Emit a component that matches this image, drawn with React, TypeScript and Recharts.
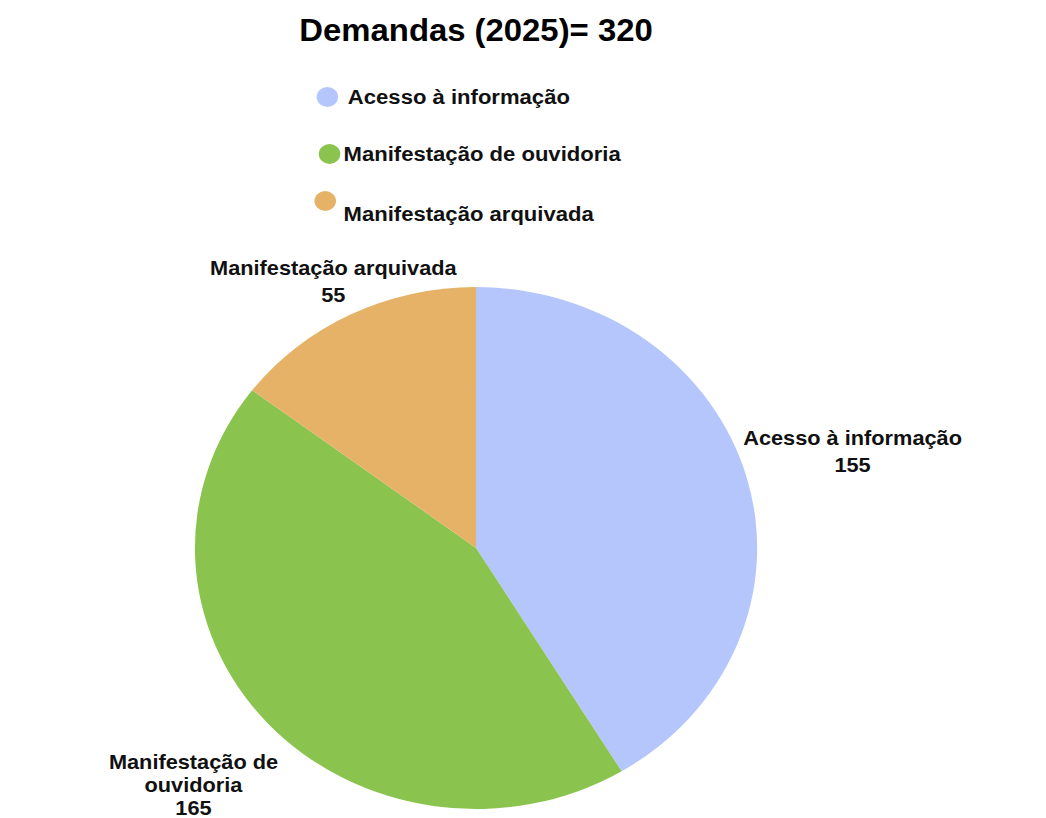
import React from 'react';
import { PieChart, Pie, Cell, Legend } from 'recharts';

const categories = ['Acesso à informação', 'Manifestação de ouvidoria', 'Manifestação arquivada'];
const values = [155, 165, 55];
const labelTexts = ['Acesso à informação', 'Manifestação de\nouvidoria', 'Manifestação arquivada'];
const colors = ['#B4C6FB', '#8BC34F', '#E5B268'];
const title = 'Demandas (2025)= 320';

// the reference picture is stretched horizontally; draw at a narrower width and stretch
const STRETCH = 1.077;
const W = Math.round(1046 / STRETCH);
const H = 818;

// distance of each label from the centre (styling only)
const labelRadius = [363, 353, 298];
const labelLineHeight = [27, 23, 27];

const data = categories.map((name, i) => ({ name, value: values[i] }));

const RADIAN = Math.PI / 180;
const FONT = '"Liberation Sans", Arial, sans-serif';

const renderLabel = (props: any) => {
  const { cx, cy, midAngle, index, value } = props;
  const r = labelRadius[index];
  const x = cx + r * Math.cos(-midAngle * RADIAN);
  const y = cy + r * Math.sin(-midAngle * RADIAN);
  const lines = [...labelTexts[index].split('\n'), String(value)];
  const lh = labelLineHeight[index];
  const top = y - ((lines.length - 1) * lh) / 2;
  return (
    <text
      x={x}
      y={top}
      textAnchor="middle"
      dominantBaseline="central"
      fill="#111"
      fontFamily={FONT}
      fontWeight="bold"
      fontSize={20.2}
    >
      {lines.map((l, k) => (
        <tspan key={k} x={x} y={top + k * lh}>
          {l}
        </tspan>
      ))}
    </text>
  );
};

const legendRows = [
  { dotX: 304, dotY: 97, textX: 323, textY: 97 },
  { dotX: 306, dotY: 154, textX: 319, textY: 154 },
  { dotX: 302, dotY: 201, textX: 319, textY: 214 },
];

const LegendContent = () => (
  <svg width={W} height={240} style={{ position: 'absolute', left: 0, top: 0 }}>
    {categories.map((name, i) => (
      <g key={name}>
        <circle cx={legendRows[i].dotX} cy={legendRows[i].dotY} r={10} fill={colors[i]} />
        <text
          x={legendRows[i].textX}
          y={legendRows[i].textY}
          dominantBaseline="central"
          fontFamily={FONT}
          fontWeight="bold"
          fontSize={20.5}
          fill="#111"
        >
          {name}
        </text>
      </g>
    ))}
  </svg>
);

const App: React.FC = () => {
  return (
    <div style={{ position: 'absolute', left: 0, top: 0, width: 1046, height: H, background: '#fff', overflow: 'hidden' }}>
      <div
        style={{
          position: 'absolute',
          left: 0,
          top: 0,
          width: W,
          height: H,
          transform: `scaleX(${STRETCH})`,
          transformOrigin: 'left top',
        }}
      >
        <div
          style={{
            position: 'absolute',
            left: 0,
            top: 13,
            width: 884,
            textAlign: 'center',
            fontFamily: FONT,
            fontWeight: 'bold',
            fontSize: 30.5,
            color: '#000',
          }}
        >
          {title}
        </div>
        <PieChart width={W} height={H}>
          <Pie
            data={data}
            dataKey="value"
            nameKey="name"
            cx={437}
            cy={543}
            outerRadius={261}
            startAngle={90}
            endAngle={-270}
            stroke="none"
            labelLine={false}
            label={renderLabel}
            isAnimationActive={false}
          >
            {data.map((d, i) => (
              <Cell key={d.name} fill={colors[i]} />
            ))}
          </Pie>
          <Legend content={() => <LegendContent />} wrapperStyle={{ position: 'absolute', left: 0, top: 0 }} />
        </PieChart>
      </div>
    </div>
  );
};

export default App;
